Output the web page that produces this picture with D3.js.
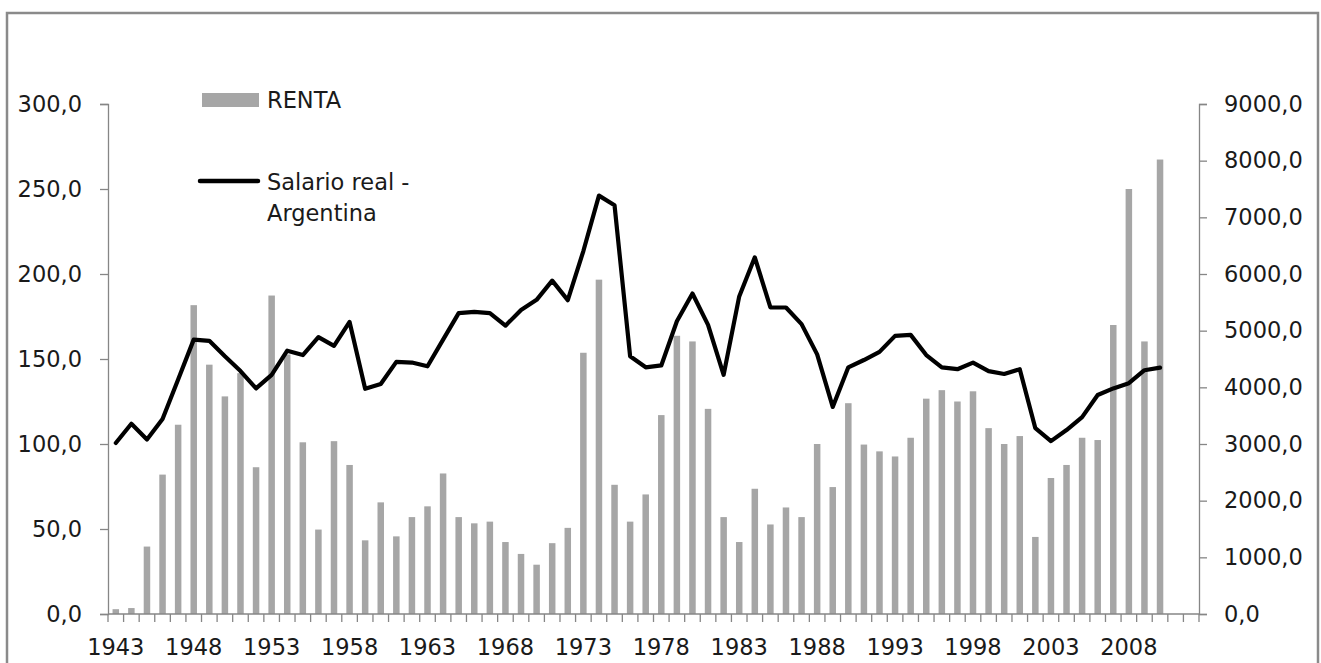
<!DOCTYPE html>
<html>
<head>
<meta charset="utf-8">
<script src="https://cdn.jsdelivr.net/npm/d3@7"></script>
<style>
  html, body { margin: 0; padding: 0; background: #fff; }
  svg { display: block; }
  text { font-family: "DejaVu Sans", Verdana, sans-serif; fill: #1a1a1a; }
</style>
</head>
<body>
<svg id="chart" width="1321" height="663"></svg>
<script>
// ---- data ----
const years = [1943,1944,1945,1946,1947,1948,1949,1950,1951,1952,1953,1954,1955,1956,1957,1958,1959,1960,
  1961,1962,1963,1964,1965,1966,1967,1968,1969,1970,1971,1972,1973,1974,1975,1976,1977,1978,1979,1980,
  1981,1982,1983,1984,1985,1986,1987,1988,1989,1990,1991,1992,1993,1994,1995,1996,1997,1998,1999,2000,
  2001,2002,2003,2004,2005,2006,2007,2008,2009,2010,2011,2012];
const dataYears = years.slice(0, 68);
// RENTA (right axis)
const renta = [85,105,1190,2460,3340,5450,4400,3840,4250,2590,5620,4580,3030,1490,3050,2630,1300,1970,
  1370,1710,1900,2480,1710,1600,1630,1270,1060,870,1250,1520,4610,5900,2280,1630,2110,3510,4910,4810,
  3620,1710,1270,2210,1580,1880,1710,3000,2240,3720,2990,2870,2780,3110,3800,3950,3750,3930,3280,3000,
  3140,1360,2400,2630,3110,3070,5100,7500,4810,8020];
// Salario real - Argentina (left axis)
const salario = [100.6,111.9,102.7,114.7,137.9,161.4,160.7,151.6,142.9,132.7,140.7,154.9,152.3,162.9,157.7,171.8,132.5,135.3,
  148.3,147.9,145.7,161.4,177.0,177.7,177.0,169.6,178.8,184.8,196.1,184.6,213.5,246.1,240.4,151.6,145.1,146.2,172.2,188.5,
  170.1,140.7,186.8,209.8,180.3,180.3,170.5,152.7,121.8,145.1,149.4,154.2,163.6,164.2,152.3,145.1,144.0,147.9,142.9,141.2,
  144.0,109.3,101.7,108.2,115.8,128.8,132.7,135.8,143.4,144.9];
const leftTicks = [0,50,100,150,200,250,300];
const rightTicks = [0,1000,2000,3000,4000,5000,6000,7000,8000,9000];
const xTickLabels = [1943,1948,1953,1958,1963,1968,1973,1978,1983,1988,1993,1998,2003,2008];
const legendRenta = "RENTA";
const legendSalario = ["Salario real -", "Argentina"];

// ---- layout ----
const svg = d3.select("#chart");
const plot = { left: 108, right: 1199, top: 104, bottom: 614 };
const axisColor = "#868686";
const fontSize = 22.5;

// outer border
svg.append("rect")
  .attr("x", 7).attr("y", 13).attr("width", 1311).attr("height", 700)
  .attr("fill", "none").attr("stroke", "#8a8a8a").attr("stroke-width", 2.5);

const x = d3.scaleBand().domain(years).range([plot.left, plot.right]).paddingInner(0).paddingOuter(0);
const yL = d3.scaleLinear().domain([0, 300]).range([plot.bottom, plot.top]);
const yR = d3.scaleLinear().domain([0, 9000]).range([plot.bottom, plot.top]);
const fmt = v => d3.format(".1f")(v).replace(".", ",");

// bars
const barW = 6.5;
svg.append("g").selectAll("rect").data(dataYears).join("rect")
  .attr("x", (d) => x(d) + x.bandwidth() / 2 - barW / 2)
  .attr("y", (d, i) => yR(renta[i]))
  .attr("width", barW)
  .attr("height", (d, i) => yR(0) - yR(renta[i]))
  .attr("fill", "#a6a6a6");

// left axis
const gL = svg.append("g").attr("transform", `translate(${plot.left},0)`)
  .call(d3.axisLeft(yL).tickValues(leftTicks).tickFormat(fmt).tickSize(8).tickPadding(18));
// right axis
const gR = svg.append("g").attr("transform", `translate(${plot.right},0)`)
  .call(d3.axisRight(yR).tickValues(rightTicks).tickFormat(fmt).tickSize(8).tickPadding(17));
[gL, gR].forEach(g => {
  g.select(".domain").attr("stroke", axisColor).attr("stroke-width", 1.3);
  g.selectAll(".tick line").attr("stroke", axisColor).attr("stroke-width", 1.3);
  g.selectAll(".tick text").style("font-family", '"DejaVu Sans", Verdana, sans-serif')
    .style("font-size", fontSize + "px").attr("fill", "#1a1a1a");
});

// bottom axis: domain line, ticks at category boundaries, labels every 5 years
const gB = svg.append("g");
gB.append("line").attr("x1", plot.left).attr("x2", plot.right)
  .attr("y1", plot.bottom).attr("y2", plot.bottom)
  .attr("stroke", axisColor).attr("stroke-width", 1.3);
const boundaries = years.map(d => x(d)).concat([x(years[years.length - 1]) + x.bandwidth()]);
gB.selectAll("line.tk").data(boundaries).join("line").attr("class", "tk")
  .attr("x1", d => d).attr("x2", d => d)
  .attr("y1", plot.bottom).attr("y2", plot.bottom + 8)
  .attr("stroke", axisColor).attr("stroke-width", 1.3);
gB.selectAll("text").data(xTickLabels).join("text")
  .attr("x", d => x(d) + x.bandwidth() / 2)
  .attr("y", 655)
  .attr("text-anchor", "middle")
  .style("font-size", fontSize + "px")
  .text(d => d);

// line
const line = d3.line()
  .x((d) => x(d) + x.bandwidth() / 2)
  .y((d, i) => yL(salario[i]));
svg.append("path").datum(dataYears)
  .attr("d", line)
  .attr("fill", "none").attr("stroke", "#000").attr("stroke-width", 4.2)
  .attr("stroke-linejoin", "round").attr("stroke-linecap", "round");

// legend
const lg = svg.append("g");
lg.append("rect").attr("x", 202).attr("y", 93).attr("width", 57).attr("height", 14).attr("fill", "#a6a6a6");
lg.append("text").attr("x", 267).attr("y", 108).style("font-size", fontSize + "px").text(legendRenta);
lg.append("line").attr("x1", 200).attr("x2", 258).attr("y1", 181).attr("y2", 181)
  .attr("stroke", "#000").attr("stroke-width", 4.5).attr("stroke-linecap", "round");
lg.selectAll("text.s").data(legendSalario).join("text").attr("class", "s")
  .attr("x", 267).attr("y", (d, i) => 190 + i * 31)
  .style("font-size", fontSize + "px").text(d => d);
</script>
</body>
</html>
